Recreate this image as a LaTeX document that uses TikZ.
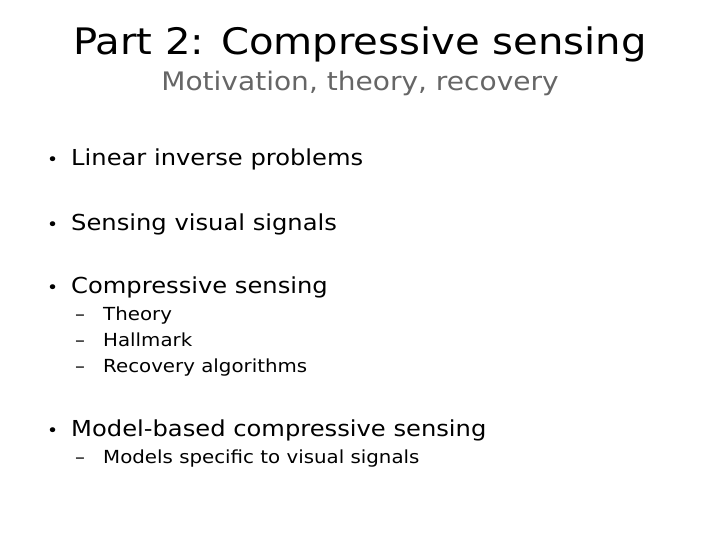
\documentclass[tikz,border=0pt]{standalone}
\usepackage{fontspec}
\setmainfont[FakeStretch=1.1]{DejaVu Sans}
\begin{document}
\begin{tikzpicture}[x=1pt,y=-1pt,
  bul/.style={anchor=base west,font=\fontsize{22}{26}\selectfont,inner sep=0},
  sub/.style={anchor=base west,font=\fontsize{18}{20}\selectfont,inner sep=0}]
\useasboundingbox (0,0) rectangle (720,540);
\node[anchor=base,font=\fontsize{36.5}{40}\selectfont] (t) at (360,55) {Part 2: Compressive sensing};
\node[anchor=base,font=\fontsize{25.5}{28}\selectfont,text=black!60] (st) at (360,91) {Motivation, theory, recovery};
\node[bul] (b1d) at (47,166) {\fontsize{17}{17}\selectfont •};
\node[bul] (b1) at (71,166) {Linear inverse problems};
\node[bul] (b2d) at (47,230) {\fontsize{17}{17}\selectfont •};
\node[bul] (b2) at (71,230) {Sensing visual signals};
\node[bul] (b3d) at (47,293) {\fontsize{17}{17}\selectfont •};
\node[bul] (b3) at (71,293) {Compressive sensing};
\node[sub] (s1d) at (75,320) {–};
\node[sub] (s1) at (103,320) {Theory};
\node[sub] (s2d) at (75,346) {–};
\node[sub] (s2) at (103,346) {Hallmark};
\node[sub] (s3d) at (75,372) {–};
\node[sub] (s3) at (103,372) {Recovery algorithms};
\node[bul] (b4d) at (47,436) {\fontsize{17}{17}\selectfont •};
\node[bul] (b4) at (71,436) {Model-based compressive sensing};
\node[sub] (s4d) at (75,463) {–};
\node[sub] (s4) at (103,463) {Models specific to visual signals};
\end{tikzpicture}
\end{document}
